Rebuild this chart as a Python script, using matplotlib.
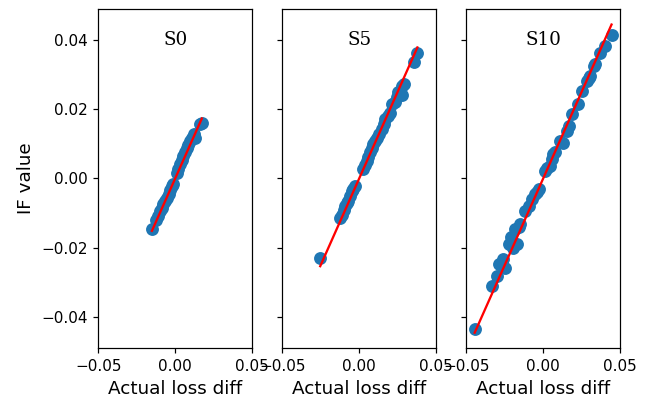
import numpy as np
import matplotlib
matplotlib.use("Agg")
import matplotlib.pyplot as plt

names = ["S0", "S5", "S10"]

# actual loss diff / IF value per panel
x_s0 = [-0.0151, -0.0123, -0.0110, -0.0097, -0.0088, -0.0076, -0.0065, -0.0055, -0.0043, -0.0033,
        -0.0022, -0.0015, 0.0011, 0.0020, 0.0032, 0.0043, 0.0054, 0.0065, 0.0076, 0.0086,
        0.0097, 0.0108, 0.0119, 0.0130, 0.0162, 0.0173]
y_s0 = [-0.0147, -0.0121, -0.0108, -0.0094, -0.0085, -0.0075, -0.0065, -0.0056, -0.0046, -0.0034,
        -0.0022, -0.0016, 0.0017, 0.0028, 0.0041, 0.0052, 0.0065, 0.0076, 0.0089, 0.0098,
        0.0108, 0.0118, 0.0128, 0.0118, 0.0157, 0.0160]

x_s5 = [-0.0253, -0.0123, -0.0110, -0.0100, -0.0091, -0.0080, -0.0071, -0.0060, -0.0048, -0.0037,
        -0.0026, 0.0028, 0.0040, 0.0050, 0.0060, 0.0071, 0.0082, 0.0093, 0.0104, 0.0115,
        0.0130, 0.0147, 0.0158, 0.0169, 0.0185, 0.0201, 0.0212, 0.0234, 0.0245, 0.0255,
        0.0277, 0.0277, 0.0288, 0.0357, 0.0378]
y_s5 = [-0.0230, -0.0113, -0.0105, -0.0092, -0.0079, -0.0072, -0.0064, -0.0050, -0.0036, -0.0030,
        -0.0022, 0.0027, 0.0038, 0.0050, 0.0062, 0.0075, 0.0087, 0.0099, 0.0108, 0.0118,
        0.0128, 0.0142, 0.0158, 0.0171, 0.0180, 0.0190, 0.0214, 0.0222, 0.0235, 0.0248,
        0.0267, 0.0240, 0.0272, 0.0335, 0.0363]

x_s10 = [-0.0445, -0.0333, -0.0300, -0.0290, -0.0258, -0.0247, -0.0225, -0.0210, -0.0193, -0.0182,
         -0.0171, -0.0160, -0.0149, -0.0117, -0.0095, -0.0070, -0.0052, -0.0040, -0.0030, 0.0013,
         0.0025, 0.0045, 0.0060, 0.0067, 0.0075, 0.0110, 0.0132, 0.0154, 0.0165, 0.0186,
         0.0229, 0.0251, 0.0284, 0.0295, 0.0305, 0.0327, 0.0338, 0.0370, 0.0403, 0.0444]
y_s10 = [-0.0435, -0.0310, -0.0280, -0.0248, -0.0233, -0.0258, -0.0190, -0.0170, -0.0200, -0.0147,
         -0.0190, -0.0140, -0.0132, -0.0094, -0.0079, -0.0060, -0.0046, -0.0038, -0.0031, 0.0022,
         0.0030, 0.0036, 0.0055, 0.0070, 0.0075, 0.0108, 0.0103, 0.0137, 0.0150, 0.0185,
         0.0214, 0.0253, 0.0282, 0.0290, 0.0296, 0.0325, 0.0330, 0.0363, 0.0383, 0.0414]

xs = [x_s0, x_s5, x_s10]
ys = [y_s0, y_s5, y_s10]

fig, axes = plt.subplots(1, 3, sharey=True, figsize=(646/110, 397/110), dpi=110)
fig.subplots_adjust(left=0.152, right=0.960, top=0.977, bottom=0.123, wspace=0.195)

for ax, name, x, y in zip(axes, names, xs, ys):
    x = np.array(x)
    y = np.array(y)
    ax.scatter(x, y, s=55, color="tab:blue")
    # red reference line y = x over the data range
    lx = np.array([x.min(), x.max()])
    ax.plot(lx, lx, color="red")
    ax.set_xlim(-0.05, 0.05)
    ax.set_xticks([-0.05, 0.0, 0.05])
    ax.set_xlabel("Actual loss diff", fontsize=12)
    ax.text(0.5, 0.91, name, transform=ax.transAxes, ha="center", va="center",
            family="DejaVu Serif", fontsize=12)

axes[0].set_ylabel("IF value", fontsize=12)

fig.savefig("out.png", dpi=110)
